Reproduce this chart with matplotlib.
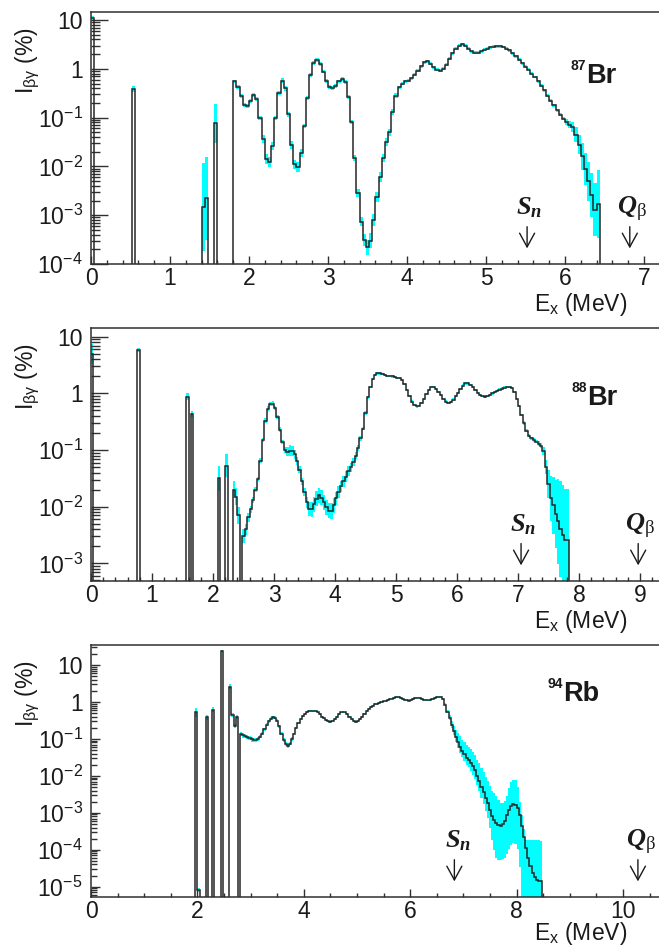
import numpy as np
import matplotlib
matplotlib.use("Agg")
import matplotlib.pyplot as plt
import matplotlib.transforms as mtransforms
from matplotlib.ticker import FixedLocator, FuncFormatter, NullFormatter

plt.rcParams['font.family'] = ['Liberation Sans', 'DejaVu Sans']
plt.rcParams['mathtext.fontset'] = 'custom'
plt.rcParams['mathtext.sf'] = 'Liberation Sans'
plt.rcParams['mathtext.rm'] = 'Liberation Serif'
plt.rcParams['mathtext.it'] = 'Liberation Serif:italic:bold'
plt.rcParams['mathtext.bf'] = 'Liberation Sans:bold'

BIN = 0.04  # MeV per bin

# ---------------- 87Br ----------------
br87_line_E = [0.00, 0.52, 1.40, 1.44, 1.56]
br87_line_I = [10.8, 0.38, 1.5e-3, 2.2e-3, 0.077]
br87_line_err = [0.05, 0.06, 0.9, 0.85, 0.4]          # half width of band, decades
br87_cont_E0 = 1.80
br87_cont_I = [
    0.55, 0.43, 0.28, 0.18, 0.17, 0.22, 0.29, 0.24, 0.10, 0.036,
    0.0144, 0.0123, 0.026, 0.098, 0.32, 0.57, 0.40, 0.118, 0.027, 0.011,
    0.0097, 0.019, 0.068, 0.25, 0.75, 1.33, 1.53, 1.27, 0.88, 0.57,
    0.43, 0.40, 0.45, 0.55, 0.62, 0.53, 0.26, 0.080, 0.015, 0.0029,
    7.4e-4, 3.1e-4, 2.2e-4, 3.0e-4, 8e-4, 2.4e-3, 6e-3, 0.015, 0.032, 0.05,
    0.13, 0.28, 0.42, 0.49, 0.55, 0.57, 0.64, 0.75, 0.92, 1.13,
    1.37, 1.44, 1.27, 1.08, 0.95, 0.91, 1.0, 1.2, 1.6, 2.1,
    2.6, 3.0, 3.2, 3.0, 2.6, 2.3, 2.15, 2.15, 2.3, 2.45,
    2.6, 2.75, 2.85, 2.9, 2.9, 2.8, 2.6, 2.4, 2.1, 1.8,
    1.55, 1.3, 1.1, 0.95, 0.8, 0.68, 0.55, 0.45, 0.36, 0.28,
    0.22, 0.18, 0.14, 0.115, 0.095, 0.082, 0.072, 0.064, 0.045, 0.028,
    0.016, 0.009, 0.005, 0.0026, 0.0013, 0.0017,
]
br87_cont_err = [
    0.04, 0.04, 0.04, 0.04, 0.04, 0.04, 0.04, 0.04, 0.04, 0.08,
    0.1, 0.1, 0.08, 0.05, 0.05, 0.05, 0.05, 0.05, 0.08, 0.1,
    0.1, 0.08, 0.04, 0.04, 0.04, 0.04, 0.04, 0.04, 0.04, 0.04,
    0.04, 0.04, 0.04, 0.04, 0.04, 0.04, 0.04, 0.04, 0.06, 0.08,
    0.1, 0.12, 0.15, 0.15, 0.12, 0.1, 0.1, 0.08, 0.08, 0.07,
    0.06, 0.05, 0.03, 0.03, 0.03, 0.03, 0.03, 0.03, 0.03, 0.03,
    0.03, 0.03, 0.03, 0.03, 0.03, 0.03, 0.03, 0.03, 0.03, 0.03,
    0.03, 0.03, 0.03, 0.03, 0.03, 0.03, 0.03, 0.03, 0.03, 0.03,
    0.03, 0.03, 0.03, 0.03, 0.03, 0.03, 0.03, 0.03, 0.03, 0.03,
    0.03, 0.03, 0.03, 0.03, 0.03, 0.03, 0.03, 0.03, 0.03, 0.03,
    0.03, 0.03, 0.03, 0.03, 0.03, 0.06, 0.08, 0.1, 0.15, 0.2,
    0.28, 0.33, 0.4, 0.45, 0.55, 0.7,
]
br87_Sn, br87_Qb = 5.52, 6.82

# ---------------- 88Br ----------------
br88_line_E = [0.00, 0.76, 1.56, 1.64, 2.08, 2.20]
br88_line_I = [5.0, 5.8, 0.88, 0.43, 0.032, 0.053]
br88_line_err = [0.18, 0.03, 0.06, 0.05, 0.22, 0.2]
br88_cont_E0 = 2.32
br88_cont_I = [
    0.020, 0.015, 0.007, 0.0, 0.003, 0.004, 0.0065, 0.009, 0.013, 0.020,
    0.031, 0.065, 0.15, 0.33, 0.54, 0.65, 0.66, 0.55, 0.38, 0.23,
    0.14, 0.10, 0.094, 0.098, 0.095, 0.085, 0.065, 0.045, 0.028, 0.018,
    0.012, 0.009, 0.009, 0.011, 0.0138, 0.0158, 0.0145, 0.012, 0.0098, 0.0085,
    0.0085, 0.0105, 0.014, 0.018, 0.023, 0.028, 0.034, 0.042, 0.05, 0.062,
    0.08, 0.11, 0.16, 0.24, 0.45, 0.85, 1.3, 1.8, 2.1, 2.25,
    2.25, 2.2, 2.1, 2.05, 2.05, 2.0, 1.95, 1.9, 1.85, 1.75,
    1.45, 1.15, 0.9, 0.72, 0.63, 0.59, 0.6, 0.68, 0.8, 0.98,
    1.15, 1.28, 1.3, 1.2, 1.05, 0.93, 0.8, 0.72, 0.68, 0.7,
    0.78, 0.9, 1.02, 1.2, 1.38, 1.5, 1.5, 1.42, 1.3, 1.15,
    1.02, 0.94, 0.9, 0.88, 0.9, 0.95, 1.0, 1.06, 1.12, 1.17,
    1.22, 1.27, 1.31, 1.3, 1.24, 1.05, 0.8, 0.6, 0.42, 0.3,
    0.22, 0.18, 0.16, 0.15, 0.14, 0.13, 0.12, 0.095, 0.05, 0.025,
    0.014, 0.0105, 0.0075, 0.0055, 0.004, 0.0031, 0.0026, 0.0026,
]
br88_cont_err = [
    0.15, 0.15, 0.15, 0.0, 0.12, 0.1, 0.08, 0.06, 0.05, 0.05,
    0.04, 0.04, 0.04, 0.04, 0.04, 0.04, 0.04, 0.04, 0.04, 0.04,
    0.04, 0.06, 0.08, 0.09, 0.09, 0.08, 0.07, 0.06, 0.06, 0.07,
    0.1, 0.12, 0.13, 0.13, 0.13, 0.13, 0.13, 0.13, 0.13, 0.13,
    0.14, 0.13, 0.12, 0.11, 0.1, 0.1, 0.1, 0.09, 0.08, 0.07,
    0.06, 0.05, 0.04, 0.03, 0.03, 0.03, 0.02, 0.02, 0.02, 0.02,
    0.02, 0.02, 0.02, 0.02, 0.02, 0.02, 0.02, 0.02, 0.02, 0.02,
    0.02, 0.02, 0.02, 0.02, 0.02, 0.02, 0.02, 0.02, 0.02, 0.02,
    0.02, 0.02, 0.02, 0.02, 0.02, 0.02, 0.02, 0.02, 0.02, 0.02,
    0.02, 0.02, 0.02, 0.02, 0.02, 0.02, 0.02, 0.02, 0.02, 0.02,
    0.02, 0.02, 0.02, 0.02, 0.02, 0.02, 0.02, 0.02, 0.02, 0.02,
    0.02, 0.02, 0.02, 0.02, 0.02, 0.02, 0.02, 0.02, 0.02, 0.03,
    0.03, 0.03, 0.03, 0.03, 0.03, 0.04, 0.05, 0.07, 0.12, 0.25,
    0.4, 0.5, 0.6, 0.75, 0.85, 0.9, 0.9, 0.9,
]
br88_Sn, br88_Qb = 7.05, 8.97

# ---------------- 94Rb ----------------
rb94_line_E = [1.96, 2.00, 2.16, 2.28, 2.44, 2.60, 2.64, 2.68, 2.72]
rb94_line_I = [0.52, 8e-6, 0.38, 0.62, 24.0, 2.6, 0.44, 0.22, 0.40]
rb94_line_err = [0.13, 0.05, 0.08, 0.06, 0.03, 0.06, 0.05, 0.06, 0.05]
rb94_cont_E0 = 2.80
rb94_cont_I = [
    0.134, 0.125, 0.118, 0.112, 0.105, 0.097, 0.093, 0.094, 0.10, 0.115,
    0.14, 0.18, 0.24, 0.30, 0.35, 0.38, 0.37, 0.31, 0.22, 0.14,
    0.095, 0.072, 0.065, 0.075, 0.10, 0.14, 0.20, 0.27, 0.35, 0.42,
    0.48, 0.53, 0.56, 0.58, 0.58, 0.56, 0.52, 0.46, 0.40, 0.36,
    0.33, 0.30, 0.29, 0.31, 0.35, 0.40, 0.46, 0.52, 0.54, 0.52,
    0.46, 0.40, 0.35, 0.31, 0.29, 0.30, 0.34, 0.40, 0.47, 0.56,
    0.65, 0.73, 0.80, 0.86, 0.90, 0.95, 1.0, 1.03, 1.07, 1.12,
    1.18, 1.24, 1.30, 1.34, 1.33, 1.27, 1.2, 1.15, 1.12, 1.09,
    1.1, 1.18, 1.26, 1.32, 1.3, 1.22, 1.15, 1.12, 1.1, 1.12,
    1.18, 1.26, 1.33, 1.38, 1.36, 1.2, 0.85, 0.55, 0.37, 0.24,
    0.16, 0.11, 0.08, 0.06, 0.046, 0.038, 0.031, 0.027, 0.022, 0.018,
    0.014, 0.0098, 0.0072, 0.005, 0.0036, 0.0025, 0.0018, 0.0012, 8e-4, 6.2e-4,
    5.2e-4, 4.6e-4, 4.5e-4, 5e-4, 6e-4, 8.5e-4, 1.2e-3, 1.55e-3, 1.7e-3, 1.65e-3,
    1.35e-3, 8.5e-4, 4.5e-4, 2.2e-4, 1.1e-4, 6e-5, 3.6e-5, 2.4e-5, 1.8e-5, 1.55e-5,
    1.45e-5, 1.4e-5,
]
rb94_cont_hi = [
    0.06, 0.06, 0.06, 0.06, 0.06, 0.06, 0.06, 0.06, 0.06, 0.04,
    0.04, 0.04, 0.04, 0.04, 0.04, 0.04, 0.04, 0.04, 0.04, 0.04,
    0.05, 0.05, 0.05, 0.05, 0.05, 0.025, 0.025, 0.025, 0.025, 0.025,
    0.025, 0.025, 0.025, 0.025, 0.025, 0.025, 0.025, 0.025, 0.025, 0.025,
    0.025, 0.025, 0.025, 0.025, 0.025, 0.025, 0.025, 0.025, 0.025, 0.025,
    0.025, 0.025, 0.025, 0.025, 0.025, 0.025, 0.025, 0.025, 0.025, 0.025,
    0.025, 0.025, 0.025, 0.025, 0.025, 0.025, 0.025, 0.025, 0.025, 0.025,
    0.025, 0.025, 0.025, 0.025, 0.025, 0.025, 0.025, 0.025, 0.025, 0.025,
    0.025, 0.025, 0.025, 0.025, 0.025, 0.025, 0.025, 0.025, 0.025, 0.025,
    0.025, 0.025, 0.025, 0.025, 0.025, 0.025, 0.04, 0.05, 0.07, 0.1,
    0.15, 0.2, 0.25, 0.3, 0.32, 0.34, 0.35, 0.36, 0.38, 0.4,
    0.42, 0.45, 0.5, 0.52, 0.55, 0.57, 0.6, 0.65, 0.7, 0.75,
    0.73, 0.68, 0.62, 0.57, 0.53, 0.52, 0.58, 0.64, 0.66, 0.66,
    0.57, 0.35, 0.28, 0.22, 0.22, 0.48, 0.7, 0.88, 1.0, 1.07,
    1.1, 1.1,
]
rb94_cont_lo = [
    0.06, 0.06, 0.06, 0.06, 0.06, 0.06, 0.06, 0.06, 0.06, 0.04,
    0.04, 0.04, 0.04, 0.04, 0.04, 0.04, 0.04, 0.04, 0.04, 0.04,
    0.05, 0.05, 0.05, 0.05, 0.05, 0.025, 0.025, 0.025, 0.025, 0.025,
    0.025, 0.025, 0.025, 0.025, 0.025, 0.025, 0.025, 0.025, 0.025, 0.025,
    0.025, 0.025, 0.025, 0.025, 0.025, 0.025, 0.025, 0.025, 0.025, 0.025,
    0.025, 0.025, 0.025, 0.025, 0.025, 0.025, 0.025, 0.025, 0.025, 0.025,
    0.025, 0.025, 0.025, 0.025, 0.025, 0.025, 0.025, 0.025, 0.025, 0.025,
    0.025, 0.025, 0.025, 0.025, 0.025, 0.025, 0.025, 0.025, 0.025, 0.025,
    0.025, 0.025, 0.025, 0.025, 0.025, 0.025, 0.025, 0.025, 0.025, 0.025,
    0.025, 0.025, 0.025, 0.025, 0.025, 0.025, 0.04, 0.05, 0.06, 0.08,
    0.1, 0.12, 0.14, 0.15, 0.16, 0.18, 0.2, 0.2, 0.22, 0.22,
    0.24, 0.25, 0.27, 0.3, 0.32, 0.35, 0.4, 0.5, 0.65, 0.8,
    0.95, 0.95, 0.93, 0.95, 1.0, 1.05, 1.05, 1.05, 1.06, 1.05,
    1.1, 1.4, 3.0, 3.0, 3.0, 3.0, 3.0, 3.0, 3.0, 3.0,
    3.0, 3.0,
]
rb94_Sn, rb94_Qb = 6.83, 10.28


def build(line_E, line_I, line_lo, line_hi, E0, cont_I, cont_lo, cont_hi):
    """Put lines and continuum on one 40 keV grid; returns edges, value, band low/high."""
    i0 = int(round(E0 / BIN))
    n = i0 + len(cont_I) + 2
    val = np.zeros(n)
    dlo = np.zeros(n)
    dhi = np.zeros(n)
    for E, I, lo, hi in zip(line_E, line_I, line_lo, line_hi):
        k = int(round(E / BIN))
        val[k], dlo[k], dhi[k] = I, lo, hi
    val[i0:i0 + len(cont_I)] = cont_I
    dlo[i0:i0 + len(cont_I)] = cont_lo
    dhi[i0:i0 + len(cont_I)] = cont_hi
    edges = np.arange(n + 1) * BIN
    return edges, val, dlo, dhi


panels = [
    dict(data=build(br87_line_E, br87_line_I, br87_line_err, br87_line_err,
                    br87_cont_E0, br87_cont_I, br87_cont_err, br87_cont_err),
         top=12, bottom=264, xmax=7.215, ylim=(1e-4, 14.6), xmaj=1, xmin=0.2,
         ylen=(12.5, 6.5), name='87', el='Br', Sn=br87_Sn, Qb=br87_Qb,
         iso_x=586, iso_y=83, xlab_y=311),
    dict(data=build(br88_line_E, br88_line_I, br88_line_err, br88_line_err,
                    br88_cont_E0, br88_cont_I, br88_cont_err, br88_cont_err),
         top=328, bottom=581, xmax=9.344, ylim=(4.87e-4, 14.3), xmaj=1, xmin=0.2,
         ylen=(12.0, 6.5), name='88', el='Br', Sn=br88_Sn, Qb=br88_Qb,
         iso_x=587, iso_y=405, xlab_y=628),
    dict(data=build(rb94_line_E, rb94_line_I, rb94_line_err, rb94_line_err,
                    rb94_cont_E0, rb94_cont_I, rb94_cont_lo, rb94_cont_hi),
         top=645, bottom=897, xmax=10.714, ylim=(5.26e-6, 34.8), xmaj=2, xmin=0.5,
         ylen=(6.5, 4.5), name='94', el='Rb', Sn=rb94_Sn, Qb=rb94_Qb,
         iso_x=563, iso_y=701, xlab_y=940),
]

W, H = 659, 947
fig = plt.figure(figsize=(W / 100, H / 100), dpi=100)
AX_LEFT, AX_W = 91, 570
INK = '#303030'
TXT = '#1a1a1a'
FLOOR = 1e-12


def fx(x):
    return x / W


def fy(y):
    return 1 - y / H


def ylabel_fmt(v, pos):
    e = int(round(np.log10(v)))
    if e == 0:
        return '1'
    if e == 1:
        return '10'
    return r'$\mathsf{10^{%d}}$' % e


def log_ticks(lo, hi):
    e0, e1 = int(np.floor(np.log10(lo))), int(np.ceil(np.log10(hi)))
    major = [10.0 ** e for e in range(e0, e1 + 1) if lo * 0.999 <= 10.0 ** e <= hi]
    minor = [m * 10.0 ** e for e in range(e0, e1 + 1) for m in range(2, 10)
             if lo <= m * 10.0 ** e <= hi]
    return major, minor


for p in panels:
    ax = fig.add_axes([fx(AX_LEFT), fy(p['bottom']), AX_W / W, (p['bottom'] - p['top']) / H])
    edges, val, dlo, dhi = p['data']
    has = val > 0
    v = np.where(has, val, FLOOR)
    hi = np.where(has, val * 10 ** dhi, FLOOR)
    lo = np.where(has, val / 10 ** dlo, FLOOR)

    ax.stairs(hi, edges, baseline=lo, fill=True, color='#00ffff', lw=0, zorder=1)
    ax.stairs(v, edges, baseline=None, color='#262626', lw=1.1, zorder=2)

    ax.set_yscale('log')
    ax.set_xlim(0, p['xmax'])
    ax.set_ylim(*p['ylim'])

    xmajor = np.arange(0, p['xmax'] + 1e-9, p['xmaj'])
    xminor = np.arange(0, p['xmax'] + 1e-9, p['xmin'])
    ymajor, yminor = log_ticks(*p['ylim'])
    ax.xaxis.set_major_locator(FixedLocator(xmajor))
    ax.xaxis.set_minor_locator(FixedLocator(xminor))
    ax.xaxis.set_major_formatter(FuncFormatter(lambda x, pos: '%g' % x))
    ax.yaxis.set_major_locator(FixedLocator(ymajor))
    ax.yaxis.set_minor_locator(FixedLocator(yminor))
    ax.yaxis.set_major_formatter(FuncFormatter(ylabel_fmt))
    ax.yaxis.set_minor_formatter(NullFormatter())

    ax.tick_params(axis='both', which='both', direction='in', colors=INK,
                   top=False, right=False, labelcolor=TXT, labelsize=16.5, width=1.0)
    ax.tick_params(axis='y', which='major', length=p['ylen'][0], pad=6)
    ax.tick_params(axis='y', which='minor', length=p['ylen'][1])
    ax.tick_params(axis='x', which='major', length=5.8, pad=2.5)
    ax.tick_params(axis='x', which='minor', length=2.9)
    for s in ax.spines.values():
        s.set_color(INK)
        s.set_linewidth(1.1)

    # axis titles
    fig.text(fx(627), fy(p['xlab_y']), r'E$_{\mathsf{x}}$ (MeV)', ha='right',
             va='baseline', fontsize=16.5, color=TXT)
    fig.text(fx(27), fy(p['top'] + 15), r'I$_{\mathsf{\beta\gamma}}$ (%)', rotation=90,
             ha='center', va='top', fontsize=16.5, color=TXT)

    # nucleus name
    fig.text(fx(p['iso_x']), fy(p['iso_y']), p['el'], ha='left', va='baseline',
             fontsize=19.5, fontweight='bold', color=TXT)
    fig.text(fx(p['iso_x']), fy(p['iso_y'] - 24), p['name'], ha='right', va='top',
             fontsize=10, fontweight='bold', color=TXT)

    # neutron separation energy and Q value markers
    tr = mtransforms.blended_transform_factory(ax.transData, ax.transAxes)
    for E, lab in ((p['Sn'], r'$S_n$'), (p['Qb'], r'$Q_{\mathrm{\beta}}$')):
        ax.annotate('', xy=(E, 0.062), xytext=(E, 0.148), xycoords=tr, textcoords=tr,
                    arrowprops=dict(arrowstyle='->, head_length=0.55, head_width=0.3',
                                    lw=1.0, color=TXT, mutation_scale=18,
                                    shrinkA=0, shrinkB=0))
        ax.text(E + 0.03 * p['xmaj'], 0.195, lab, transform=tr, ha='center', va='baseline',
                fontsize=19, color=TXT)

fig.savefig('out.png', dpi=100)
